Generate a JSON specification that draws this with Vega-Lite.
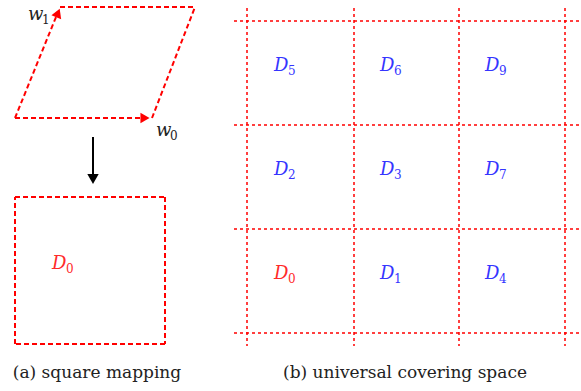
{
  "$schema": "https://vega.github.io/schema/vega-lite/v6.json",
  "width": 581,
  "height": 391,
  "autosize": {"type": "fit", "contains": "padding"},
  "padding": 0,
  "background": "white",
  "config": {"view": {"stroke": null}},
  "datasets": {
    "segs": [
      {"kind": "box", "x": 15, "y": 118, "x2": 141, "y2": 118},
      {"kind": "box", "x": 152, "y": 118, "x2": 195, "y2": 7},
      {"kind": "box", "x": 60, "y": 7, "x2": 195, "y2": 7},
      {"kind": "box", "x": 15, "y": 118, "x2": 56, "y2": 17},
      {"kind": "box", "x": 15, "y": 197, "x2": 165, "y2": 197},
      {"kind": "box", "x": 165, "y": 197, "x2": 165, "y2": 344},
      {"kind": "box", "x": 165, "y": 344, "x2": 15, "y2": 344},
      {"kind": "box", "x": 15, "y": 344, "x2": 15, "y2": 197},
      {"kind": "grid", "x": 247, "y": 8, "x2": 247, "y2": 346},
      {"kind": "grid", "x": 354, "y": 8, "x2": 354, "y2": 346},
      {"kind": "grid", "x": 459, "y": 8, "x2": 459, "y2": 346},
      {"kind": "grid", "x": 565, "y": 8, "x2": 565, "y2": 346},
      {"kind": "grid", "x": 234, "y": 21, "x2": 580, "y2": 21},
      {"kind": "grid", "x": 234, "y": 125, "x2": 580, "y2": 125},
      {"kind": "grid", "x": 234, "y": 229, "x2": 580, "y2": 229},
      {"kind": "grid", "x": 234, "y": 333, "x2": 580, "y2": 333},
      {"kind": "black", "x": 93, "y": 137, "x2": 93, "y2": 175}
    ],
    "heads": [
      {"color": "#ff0000", "x": 145, "y": 118, "angle": 90, "size": 110},
      {"color": "#ff0000", "x": 58, "y": 13, "angle": 22, "size": 110},
      {"color": "#000000", "x": 93, "y": 179, "angle": 180, "size": 130}
    ],
    "labels": [
      {"letter": "D", "sub": "5", "x": 274, "y": 66, "color": "#3535ff"},
      {"letter": "D", "sub": "6", "x": 380, "y": 66, "color": "#3535ff"},
      {"letter": "D", "sub": "9", "x": 485, "y": 66, "color": "#3535ff"},
      {"letter": "D", "sub": "2", "x": 274, "y": 170, "color": "#3535ff"},
      {"letter": "D", "sub": "3", "x": 380, "y": 170, "color": "#3535ff"},
      {"letter": "D", "sub": "7", "x": 485, "y": 170, "color": "#3535ff"},
      {"letter": "D", "sub": "0", "x": 274, "y": 274, "color": "#ff2a2a"},
      {"letter": "D", "sub": "1", "x": 380, "y": 274, "color": "#3535ff"},
      {"letter": "D", "sub": "4", "x": 485, "y": 274, "color": "#3535ff"},
      {"letter": "D", "sub": "0", "x": 52, "y": 264, "color": "#ff2a2a"},
      {"letter": "w", "sub": "1", "x": 28, "y": 15, "color": "#222222"},
      {"letter": "w", "sub": "0", "x": 156, "y": 131, "color": "#222222"}
    ],
    "captions": [
      {"text": "(a) square mapping", "x": 97, "y": 373},
      {"text": "(b) universal covering space", "x": 405, "y": 373}
    ]
  },
  "layer": [
    {
      "data": {"name": "segs"},
      "transform": [{"filter": "datum.kind === 'box'"}],
      "mark": {"type": "rule", "color": "#ff0000", "strokeWidth": 2, "strokeDash": [5, 3]},
      "encoding": {
        "x": {"field": "x", "type": "quantitative", "scale": {"domain": [0, 581], "nice": false, "zero": false}, "axis": null},
        "y": {"field": "y", "type": "quantitative", "scale": {"domain": [0, 391], "nice": false, "zero": false, "reverse": true}, "axis": null},
        "x2": {"field": "x2"},
        "y2": {"field": "y2"}
      }
    },
    {
      "data": {"name": "segs"},
      "transform": [{"filter": "datum.kind === 'grid'"}],
      "mark": {"type": "rule", "color": "#ff0000", "strokeWidth": 1.5, "strokeDash": [3, 3]},
      "encoding": {
        "x": {"field": "x", "type": "quantitative"},
        "y": {"field": "y", "type": "quantitative"},
        "x2": {"field": "x2"},
        "y2": {"field": "y2"}
      }
    },
    {
      "data": {"name": "segs"},
      "transform": [{"filter": "datum.kind === 'black'"}],
      "mark": {"type": "rule", "color": "black", "strokeWidth": 2},
      "encoding": {
        "x": {"field": "x", "type": "quantitative"},
        "y": {"field": "y", "type": "quantitative"},
        "x2": {"field": "x2"},
        "y2": {"field": "y2"}
      }
    },
    {
      "data": {"name": "heads"},
      "mark": {"type": "point", "shape": "triangle-up", "filled": true, "opacity": 1},
      "encoding": {
        "x": {"field": "x", "type": "quantitative"},
        "y": {"field": "y", "type": "quantitative"},
        "angle": {"field": "angle", "type": "quantitative", "scale": null},
        "size": {"field": "size", "type": "quantitative", "scale": null},
        "color": {"field": "color", "type": "nominal", "scale": null}
      }
    },
    {
      "data": {"name": "labels"},
      "mark": {"type": "text", "font": "DejaVu Serif", "fontStyle": "italic", "fontSize": 18, "align": "left", "baseline": "middle"},
      "encoding": {
        "x": {"field": "x", "type": "quantitative"},
        "y": {"field": "y", "type": "quantitative"},
        "text": {"field": "letter"},
        "color": {"field": "color", "type": "nominal", "scale": null}
      }
    },
    {
      "data": {"name": "labels"},
      "mark": {"type": "text", "font": "DejaVu Serif", "fontSize": 12, "align": "left", "baseline": "middle", "dx": 14, "dy": 5},
      "encoding": {
        "x": {"field": "x", "type": "quantitative"},
        "y": {"field": "y", "type": "quantitative"},
        "text": {"field": "sub"},
        "color": {"field": "color", "type": "nominal", "scale": null}
      }
    },
    {
      "data": {"name": "captions"},
      "mark": {"type": "text", "font": "DejaVu Serif", "fontSize": 17, "align": "center", "baseline": "middle", "color": "#222222"},
      "encoding": {
        "x": {"field": "x", "type": "quantitative"},
        "y": {"field": "y", "type": "quantitative"},
        "text": {"field": "text"}
      }
    }
  ]
}
